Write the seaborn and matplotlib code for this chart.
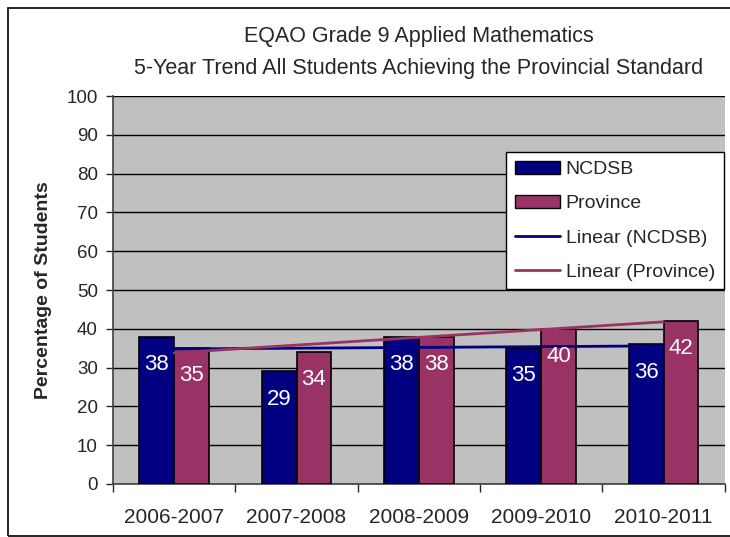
import numpy as np
import pandas as pd
import matplotlib
matplotlib.use('Agg')
import matplotlib.pyplot as plt
import seaborn as sns
from matplotlib.patches import Rectangle, Patch
from matplotlib.lines import Line2D

# Chart data
years = ['2006-2007', '2007-2008', '2008-2009', '2009-2010', '2010-2011']
ncdsb = [38, 29, 38, 35, 36]
province = [35, 34, 38, 40, 42]
series = ['NCDSB', 'Province']
colors = ['#000080', '#993366']

df = pd.DataFrame({
    'Year': years * 2,
    'Value': ncdsb + province,
    'Group': ['NCDSB'] * len(years) + ['Province'] * len(years),
})

sns.set_style('white')
plt.rcParams['font.family'] = ['Liberation Sans', 'DejaVu Sans']

fig = plt.figure(figsize=(7.3, 5.37), dpi=100)
ax = fig.add_axes([0.1548, 0.0987, 0.838, 0.7225])
ax.set_facecolor('#C0C0C0')

# outer chart border
fig.patches.append(Rectangle((8 / 730, 0.002), 0.995, 1 - 8 / 537 - 0.002,
                             transform=fig.transFigure, fill=False,
                             edgecolor='black', linewidth=1.2))

sns.barplot(data=df, x='Year', y='Value', hue='Group', order=years,
            hue_order=series, palette=colors, width=0.57, saturation=1,
            edgecolor='black', linewidth=1.2, legend=False, ax=ax, zorder=3)

# value labels inside bars
for cont in ax.containers:
    for bar in cont:
        h = bar.get_height()
        ax.annotate(f'{h:.0f}', (bar.get_x() + bar.get_width() / 2, h),
                    xytext=(0, -20), textcoords='offset points',
                    ha='center', va='center', color='white', fontsize=16,
                    zorder=5)

# linear trend lines
xs = np.arange(len(years))
for vals, c in zip([ncdsb, province], colors):
    m, b = np.polyfit(xs, vals, 1)
    ax.plot([xs[0], xs[-1]], [m * xs[0] + b, m * xs[-1] + b], color=c,
            linewidth=2, zorder=4)

ax.set_ylim(0, 100)
ax.set_xlim(-0.5, len(years) - 0.5)
ax.set_yticks(range(0, 101, 10))
ax.yaxis.grid(True, color='black', linewidth=1)
ax.set_axisbelow(True)
ax.tick_params(axis='y', labelsize=13.5, length=5, width=1, direction='out',
               left=True, pad=6)
ax.set_xticks(xs)
ax.set_xticklabels(years)
ax.tick_params(axis='x', which='major', length=0, labelsize=15, pad=17)
ax.set_xticks(np.arange(-0.5, len(years)), minor=True)
ax.tick_params(axis='x', which='minor', length=6, width=1, direction='out',
               bottom=True)

for side in ['left', 'bottom']:
    ax.spines[side].set_color('#404040')
    ax.spines[side].set_linewidth(1.2)
ax.spines['top'].set_visible(False)
ax.spines['right'].set_visible(False)

ax.set_xlabel('')
ax.set_ylabel('Percentage of Students', fontsize=14, fontweight='bold',
              labelpad=10)
ax.set_title('EQAO Grade 9 Applied Mathematics\n'
             '5-Year Trend All Students Achieving the Provincial Standard',
             fontsize=15.5, pad=16, linespacing=1.65)

handles = [Patch(facecolor=colors[0], edgecolor='black'),
           Patch(facecolor=colors[1], edgecolor='black'),
           Line2D([], [], color=colors[0], linewidth=2),
           Line2D([], [], color=colors[1], linewidth=2)]
labels = ['NCDSB', 'Province', 'Linear (NCDSB)', 'Linear (Province)']
leg = ax.legend(handles, labels, loc='upper right', bbox_to_anchor=(0.998, 0.856),
                fontsize=14, frameon=True, fancybox=False, framealpha=1,
                edgecolor='black', labelspacing=0.85, handlelength=2.3,
                handletextpad=0.3, borderpad=0.45, borderaxespad=0)
leg.get_frame().set_linewidth(1)
leg.set_zorder(6)

fig.savefig('out.png', dpi=100)
